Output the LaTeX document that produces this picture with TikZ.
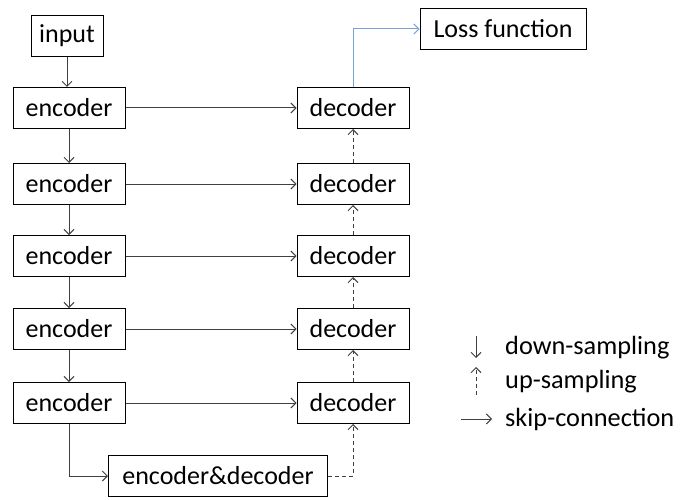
\documentclass[tikz,border=0pt]{standalone}
\usepackage{fontspec}
\setmainfont{Carlito}
\usetikzlibrary{arrows.meta}
\begin{document}
\begin{tikzpicture}[x=1pt,y=-1pt,
 box/.style={draw=black,line width=1pt,minimum height=41pt,inner sep=0pt,font=\fontsize{26}{28}\selectfont},
 enc/.style={box,minimum width=112pt},
 arr/.style={draw=black!75,line width=1pt,-{Straight Barb[length=5pt,width=10pt]}},
 uparr/.style={arr,dash pattern=on 4pt off 3pt},
 lossarr/.style={arr,draw={rgb,255:red,120;green,165;blue,215}},
 legtxt/.style={anchor=west,inner sep=0pt,font=\fontsize{26.3}{29}\selectfont}
]
\useasboundingbox (0,0) rectangle (680,500);
\node[box,minimum width=72pt] (in) at (67,36) {input};
\foreach \i/\y in {1/108,2/184,3/256,4/329,5/403}{
  \node[enc] (e\i) at (69,\y) {encoder};
  \node[enc] (d\i) at (353,\y) {decoder};
}
\node[box,minimum width=166pt] (loss) at (503,29) {Loss function};
\node[box,minimum width=219pt] (ed) at (218,476) {encoder\&decoder};

\draw[arr] (in.south) -- (in.south |- e1.north);
\foreach \i/\j in {1/2,2/3,3/4,4/5}{
  \draw[arr] (e\i.south) -- (e\j.north);
  \draw[uparr] (d\j.north) -- (d\i.south);
}
\foreach \i in {1,...,5}{
  \draw[arr] (e\i.east) -- (d\i.west);
}
\draw[arr] (e5.south) |- (ed.west);
\draw[uparr] (ed.east) -| (d5.south);
\draw[lossarr] (d1.north) |- (loss.west);

\coordinate (la1) at (476,336);
\coordinate (la2) at (476,358);
\coordinate (lb1) at (476,395);
\coordinate (lb2) at (476,367);
\coordinate (lc1) at (461,419);
\coordinate (lc2) at (492,419);
\draw[arr] (la1) -- (la2);
\draw[uparr] (lb1) -- (lb2);
\draw[arr] (lc1) -- (lc2);
\node[legtxt] (t1) at (505,348) {down-sampling};
\node[legtxt] (t2) at (505,382) {up-sampling};
\node[legtxt] (t3) at (505,419) {skip-connection};
\end{tikzpicture}
\end{document}
